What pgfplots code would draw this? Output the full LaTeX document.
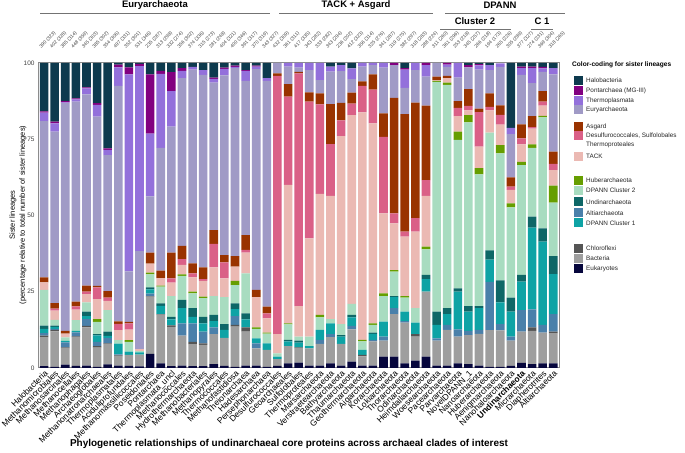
\documentclass[border=0pt]{standalone}
\usepackage{fontspec}
\setmainfont{Liberation Sans}
\usepackage{pgfplots}
\usepackage{pgfplotstable}
\pgfplotsset{compat=1.18}

\definecolor{cHalo}{HTML}{0D3A4E}
\definecolor{cPont}{HTML}{820080}
\definecolor{cThermo}{HTML}{9370DB}
\definecolor{cEury}{HTML}{A09AC6}
\definecolor{cAsgard}{HTML}{993300}
\definecolor{cDesulf}{HTML}{DA6087}
\definecolor{cTACK}{HTML}{EBB9B3}
\definecolor{cHuber}{HTML}{669E00}
\definecolor{cCtwo}{HTML}{A8DCC0}
\definecolor{cUndin}{HTML}{0E6767}
\definecolor{cAlti}{HTML}{4A80AA}
\definecolor{cCone}{HTML}{0EA3A5}
\definecolor{cChl}{HTML}{555555}
\definecolor{cBac}{HTML}{9E9E9E}
\definecolor{cEuk}{HTML}{06063C}

% percentage of sister lineages per clade, bottom to top of the stack
\pgfplotstableread{
x  Euk  Bac  Chl  Alti Cone Undin Ctwo Huber TACK Desulf Asgard Eury Thermo Pont Halo
0  0.6  9.5  0.5  0.8  1.4  1.1  11.7 0    2.5  0    1.6  51.2 2.8  0.4  15.9
1  0.4  11.6 0.5  0.3  0.7  0.4  1.9  0    3.0  0.7  1.8  56.2 2.7  0.6  19.2
2  1.1  5.4  0.3  1.6  0.5  0    1.1  0    1.3  0    0.9  74.6 0.3  0.4  12.5
3  0.7  9.4  0.3  1.3  0.5  0    3.5  0    3.4  1.1  1.6  65.5 0.8  0.3  11.6
4  0.8  12.5 0.5  2.2  1.0  1.5  3.0  0    2.7  0.8  2.0  62.7 2.0  0.3  8.0
5  0.4  6.3  0.5  1.4  2.1  0.4  4.0  0.9  6.6  3.8  0.5  55.5 3.9  0.5  13.2
6  1.2  6.7  0.2  1.8  0.6  1.4  7.1  0    3.0  1.1  2.1  44.6 1.7  0.5  28.0
7  0.8  3.1  0.2  0.4  3.5  0    1.1  0    3.3  2.1  0.8  77.2 6.1  0.9  0.5
8  0.7  3.6  0    0    1.1  0    3.2  0.5  3.5  2.0  0.5  16.6 64.6 2.3  1.4
9  0.5  3.9  0    0    0.7  0    0.4  0    0.7  0    0    32.1 60.7 0.7  0.3
10 4.6  18.8 0.2  0.8  1.4  0.6  4.3  0.6  2.9  0    3.6  18.5 20.5 19.5 3.7
11 1.5  16.0 0.2  0    2.7  0.8  5.5  0.3  2.5  0    2.4  40.3 24.2 1.0  2.6
12 0.6  12.9 0.5  0    1.9  0.9  6.8  0    4.4  1.4  8.4  41.3 11.7 6.2  3.0
13 0.8  9.8  0    4.0  5.0  2.7  7.9  0.5  3.1  1.9  4.3  55.0 2.4  0.9  1.7
14 0.6  7.2  0.8  6.0  2.2  2.8  4.9  0.5  4.7  1.3  3.3  63.5 0.9  0    1.3
15 0.6  7.0  0.5  3.8  2.7  2.2  6.1  0.5  5.2  0.5  3.9  63.1 1.6  0    2.3
16 1.3  9.8  0    2.2  2.1  2.0  6.2  0    9.4  7.7  4.5  48.4 1.2  0.4  4.8
17 0.7  9.2  0    0    2.6  1.9  8.8  0    6.2  5.2  2.4  58.9 2.2  0.4  1.5
18 0.4  13.2 0.5  2.9  2.3  1.9  6.0  1.4  4.6  0    3.5  61.6 0.4  0.4  0.9
19 0.8  11.1 1.4  0    2.6  2.0  13.1 0    6.8  0.9  4.9  50.5 3.3  0.3  2.3
20 0.8  5.6  0    1.7  1.6  0    3.1  0.5  9.9  0    2.4  72.4 0.8  0.3  0.9
21 0.4  5.5  0    0    2.2  0    3.2  0.3  4.7  1.6  2.2  74.0 0.9  0    5.0
22 0.7  2.2  0    0    0.8  0    1.1  0    6.3  84.7 0.8  3.4  0    0    0
23 1.5  5.7  0    0    1.5  0.5  5.1  0.3  45.4 29.0 4.1  5.7  1.2  0    0
24 1.8  4.7  0.3  0    1.5  0.7  1.3  0    10.0 76.3 0.5  1.4  1.5  0    0
25 0.8  5.6  0    0    0.8  0    3.1  0    32.2 44.8 3.1  7.3  2.3  0    0
26 0.8  7.1  0    1.3  3.3  0    4.1  0.8  39.7 29.3 3.6  4.4  5.6  0    0
27 1.5  8.6  0    1.0  3.5  0    1.4  0    40.4 17.0 13.1 10.7 1.6  0    1.2
28 0.8  7.1  0    0    2.4  0.5  3.6  0    61.6 5.2  5.7  10.4 2.0  0    0.7
29 2.1  10.6 0    1.1  2.8  0.8  3.6  0    61.9 3.8  3.6  4.4  3.5  0    1.8
30 0.8  3.0  0.5  0    1.6  0    2.8  0.5  74.6 8.7  1.5  4.8  1.2  0    0
31 0.8  7.9  0    0.5  2.0  0.4  2.5  0.5  65.6 11.1 5.0  3.0  0.7  0    0
32 3.7  5.3  0    1.3  4.9  0    8.4  0.9  26.2 25.1 7.7  15.0 1.5  0    0
33 3.7  14.0 0    1.9  3.6  0.4  8.0  0.5  15.3 3.3  37.9 10.7 0    0.7  0
34 1.5  13.4 0    0.5  3.1  0    4.6  0.5  19.5 1.6  38.5 8.6  6.0  0.5  1.7
35 2.4  7.9  0.8  0    3.8  0    4.7  0    25.1 4.4  37.9 10.7 2.3  0    0
36 3.7  21.3 0    0    4.1  1.4  8.4  0.9  16.6 5.2  24.4 9.5  3.8  0.7  0
37 0.8  8.2  0    0.7  4.4  4.4  75.3 0.3  0.3  0    1.1  4.5  0    0    0
38 0.8  11.7 0    1.6  3.6  1.9  73.2 0.8  1.4  0    0.8  2.9  0.8  0.5  0
39 1.5  8.8  0    2.4  12.3 1.1  48.7 2.7  5.1  2.7  2.2  7.7  4.8  0    0
40 1.3  9.5  0    1.4  6.3  1.8  60.2 2.4  1.6  1.4  5.5  7.2  0    0.7  0.7
41 0.8  10.4 0    1.3  7.1  0.7  43.2 2.0  7.1  11.3 1.1  12.8 1.4  0.4  0.4
42 0.4  12.0 0    15.8 7.3  3.1  38.6 0    7.3  1.1  4.4  7.7  1.6  0    0.7
43 0.4  11.9 0    2.1  7.1  7.2  41.7 2.7  6.7  3.2  3.1  12.6 1.2  0    0
44 0.7  8.3  0    1.3  8.2  4.6  29.6 1.3  4.4  1.1  3.0  14.2 2.0  0    21.3
45 1.7  10.2 0    7.1  9.3  2.2  36.0 1.1  5.7  2.0  4.6  16.2 2.2  0.5  1.2
46 1.3  10.9 1.1  5.9  26.8 3.6  22.6 1.1  5.2  0.5  3.6  10.8 4.9  0.5  1.2
47 1.5  10.1 0    2.5  27.3 4.4  36.4 0.5  3.3  1.3  3.5  6.3  1.1  0.5  1.3
48 1.5  9.9  0.5  5.8  13.1 5.9  17.5 5.6  5.1  2.0  4.0  25.4 2.0  0    1.7
}\sister

\begin{document}
\begin{tikzpicture}[x=1bp,y=1bp]
\useasboundingbox (0,0) rectangle (685,453);

\begin{axis}[
    at={(38bp,85bp)}, anchor=south west,
    scale only axis, width=521bp, height=305bp,
    ybar stacked, bar width=0.81,
    xmin=-0.57, xmax=48.54, ymin=0, ymax=100,
    ytick={0,25,50,75,100},
    xtick={0,...,48},
    xticklabels={Halobacteria,Methanomicrobiales,Methanosarcinales,Methanocellales,
      Methanophagales,Archaeoglobales,Methanonatronarchaeales,Thermoplasmatales,
      Aciduliprofundales,Methanomassiliicoccales,Poseidoniales,Pontarchaea,
      Thermoplasmata\_uncl,Methanococcales,Hydrothermarchaeota,Methanobacteriales,
      Methanopyrales,Thermococcales,Methanofastidiosa,Theionarchaea,Hadesarchaea,
      Persephonarchaea,Desulfurococcales,Geoarchaeales,Sulfolobales,Thermoproteales,
      Marsarchaeota,Verstraetearchaeota,Bathyarchaeota,Thaumarchaeota,
      Geothermarchaeota,Aigarchaeota,Korarchaeota,Lokiarchaeota,Thorarchaeota,
      Odinarchaeota,Heimdallarchaeota,Woesearchaeota,Pacearchaeota,Parvarchaeota,
      NovelDPANN\_1,Nanoarchaeota,Huberarchaeota,Aenigmarchaeota,Nanohaloarchaeota,
      {\bfseries Undinarchaeota},Micrarchaeota,Diapherotrites,Altiarchaeota},
    xticklabel style={rotate=45, anchor=north east, inner sep=1pt,
      font=\fontsize{8.5}{10}\selectfont},
    yticklabel style={font=\fontsize{6.5}{8}\selectfont, text=black!75},
    major tick length=0pt,
    axis line style={draw=black!45, line width=1bp},
    /pgf/number format/assume math mode=true,
]
\addplot[fill=cEuk, draw=none] table[x=x, y=Euk] {\sister};
\addplot[fill=cBac, draw=none] table[x=x, y=Bac] {\sister};
\addplot[fill=cChl, draw=none] table[x=x, y=Chl] {\sister};
\addplot[fill=cAlti, draw=none] table[x=x, y=Alti] {\sister};
\addplot[fill=cCone, draw=none] table[x=x, y=Cone] {\sister};
\addplot[fill=cUndin, draw=none] table[x=x, y=Undin] {\sister};
\addplot[fill=cCtwo, draw=none] table[x=x, y=Ctwo] {\sister};
\addplot[fill=cHuber, draw=none] table[x=x, y=Huber] {\sister};
\addplot[fill=cTACK, draw=none] table[x=x, y=TACK] {\sister};
\addplot[fill=cDesulf, draw=none] table[x=x, y=Desulf] {\sister};
\addplot[fill=cAsgard, draw=none] table[x=x, y=Asgard] {\sister};
\addplot[fill=cEury, draw=none] table[x=x, y=Eury] {\sister};
\addplot[fill=cThermo, draw=none] table[x=x, y=Thermo] {\sister};
\addplot[fill=cPont, draw=none] table[x=x, y=Pont] {\sister};
\addplot[fill=cHalo, draw=none] table[x=x, y=Halo] {\sister};
\end{axis}

% counts above the bars
\begin{axis}[
    at={(38bp,85bp)}, anchor=south west,
    scale only axis, width=521bp, height=305bp,
    xmin=-0.57, xmax=48.54, ymin=0, ymax=1,
    hide y axis, axis x line*=top,
    x axis line style={draw=none},
    major tick length=0pt,
    xtick={0,...,48},
    xticklabels={390 (323),402 (328),385 (314),448 (359),345 (303),385 (302),354 (306),
      497 (331),352 (301),531 (346),235 (287),313 (298),332 (274),356 (302),374 (336),
      315 (273),281 (248),404 (321),400 (346),391 (317),370 (319),343 (327),432 (309),
      361 (311),417 (335),343 (282),333 (282),343 (294),236 (202),412 (323),356 (314),
      325 (276),341 (287),319 (275),382 (297),318 (283),288 (224),311 (260),361 (296),
      253 (218),345 (257),266 (218),194 (173),265 (226),305 (289),377 (327),274 (231),
      369 (304),318 (265)},
    xticklabel style={yshift=14bp, xshift=-2bp, rotate=45, anchor=south west,
      inner sep=0pt, text=black!75, font=\fontsize{4.8}{5.5}\selectfont},
]
\end{axis}

% clade headers
\begin{scope}[every node/.style={font=\fontsize{9.5}{11}\selectfont\bfseries}]
\node at (155,448) {Euryarchaeota};
\node at (356,448) {TACK + Asgard};
\node at (500,448) {DPANN};
\node at (475,432) {Cluster 2};
\node at (542,432) {C 1};
\end{scope}
\draw[black!55, line width=0.9bp] (40,440) -- (270,440);
\draw[black!55, line width=0.9bp] (279,440) -- (433,440);
\draw[black!55, line width=0.9bp] (445,440) -- (565,440);
\draw[black!55, line width=0.9bp] (440,424) -- (511,424);
\draw[black!55, line width=0.9bp] (531,424) -- (553,424);

% y label
\node[rotate=90, font=\fontsize{7.5}{9}\selectfont] at (13,238) {Sister lineages};
\node[rotate=90, font=\fontsize{7.5}{9}\selectfont] at (23,238)
  {(percentage relative to total number of sister lineages)};

% bottom title
\node[font=\fontsize{10}{12}\selectfont\bfseries] at (289,9)
  {Phylogenetic relationships of undinarchaeal core proteins across archaeal clades of interest};

% legend
\node[anchor=west, inner sep=0pt, font=\fontsize{6.6}{8}\selectfont\bfseries] at (572,388)
  {Color-coding for sister lineages};
\foreach \c/\t/\lab in {cHalo/76/Halobacteria, cPont/86/Pontarchaea (MG-III),
    cThermo/96/Thermoplasmata, cEury/105.5/Euryarchaeota, cAsgard/122/Asgard,
    cDesulf/131.5/{Desulfurococcales, Sulfolobales}, cTACK/152/TACK,
    cHuber/176/Huberarchaeota, cCtwo/186/DPANN Cluster 2, cUndin/197.5/Undinarchaeota,
    cAlti/208.5/Altiarchaeota, cCone/218.5/DPANN Cluster 1,
    cChl/244/Chloroflexi, cBac/254/Bacteria, cEuk/264/Eukaryotes} {
  \fill[\c] (574,453-\t) rectangle (583,453-\t-9);
  \node[anchor=west, inner sep=0pt, font=\fontsize{6.4}{7.5}\selectfont, text=black!85]
    at (586,453-\t-4.5) {\lab};
}
\node[anchor=west, inner sep=0pt, font=\fontsize{6.4}{7.5}\selectfont, text=black!85]
  at (586,308) {Thermoproteales};
\end{tikzpicture}
\end{document}
